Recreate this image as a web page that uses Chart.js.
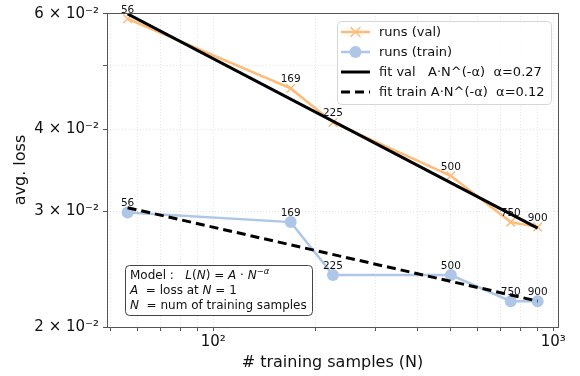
<!DOCTYPE html>
<html>
<head>
<meta charset="utf-8">
<script src="https://cdn.jsdelivr.net/npm/chart.js@4.4.0/dist/chart.umd.min.js"></script>
<style>
  html, body { margin: 0; padding: 0; background: #fff; }
</style>
</head>
<body>
<canvas id="lossChart" width="580" height="376"></canvas>
<script>
// datos
const trainingSamples = [56, 169, 225, 500, 750, 900];
const lossVal = [0.0590, 0.0462, 0.0410, 0.0340, 0.0289, 0.0284];
const lossTrain = [0.0299, 0.0289, 0.0240, 0.0240, 0.0219, 0.0219];

// rectas de ajuste (extremos)
const fitN = [56, 900];
const fitVal = [0.0600, 0.0283];
const fitTrain = [0.0304, 0.0219];

const xTicks = [50, 60, 70, 80, 90, 100, 200, 300, 400, 500, 600, 700, 800, 900, 1000];
const xTickLabels = ['', '', '', '', '', '10²', '', '', '', '', '', '', '', '', '10³'];
const yTicks = [0.02, 0.03, 0.04, 0.05, 0.06];
const yTickLabels = ['2 × 10⁻²', '3 × 10⁻²', '4 × 10⁻²', '', '6 × 10⁻²'];

const legendItems = [
    { text: 'runs (val)', color: '#ffbb78', marker: 'cross' },
    { text: 'runs (train)', color: '#aec7e8', marker: 'circle' },
    { text: 'fit val   A·N^(-α)  α=0.27', color: '#000', marker: null },
    { text: 'fit train A·N^(-α)  α=0.12', color: '#000', marker: null, dash: true }
];

const FONT = 'DejaVu Sans';

function toPoints(xs, ys) {
    return xs.map((x, i) => ({ x: x, y: ys[i] }));
}

const pointLabels = {
    id: 'pointLabels',
    afterDatasetsDraw(chart) {
        const { ctx, scales: { x, y } } = chart;
        ctx.save();
        ctx.font = '10.5px ' + FONT;
        ctx.fillStyle = '#111';
        ctx.textAlign = 'center';
        ctx.textBaseline = 'alphabetic';
        [lossVal, lossTrain].forEach(serie => {
            trainingSamples.forEach((n, i) => {
                ctx.fillText(String(n), x.getPixelForValue(n), y.getPixelForValue(serie[i]) - 6);
            });
        });
        ctx.restore();
    }
};

function roundRect(ctx, x, y, w, h, r) {
    ctx.beginPath();
    ctx.moveTo(x + r, y);
    ctx.arcTo(x + w, y, x + w, y + h, r);
    ctx.arcTo(x + w, y + h, x, y + h, r);
    ctx.arcTo(x, y + h, x, y, r);
    ctx.arcTo(x, y, x + w, y, r);
    ctx.closePath();
}

// marco, leyenda y cuadro del modelo
const extras = {
    id: 'extras',
    afterDraw(chart) {
        const { ctx, chartArea: a } = chart;
        ctx.save();

        // marco del eje
        ctx.strokeStyle = '#555';
        ctx.lineWidth = 1;
        ctx.strokeRect(a.left + 0.5, a.top + 0.5, a.right - a.left, a.bottom - a.top);

        // leyenda
        const lx = a.right - 221, ly = a.top + 8;
        roundRect(ctx, lx + 0.5, ly + 0.5, 214, 83, 4);
        ctx.fillStyle = 'rgba(255,255,255,0.85)';
        ctx.fill();
        ctx.strokeStyle = '#d6d6d6';
        ctx.stroke();

        ctx.font = '13px ' + FONT;
        ctx.textBaseline = 'middle';
        ctx.textAlign = 'left';
        legendItems.forEach((it, i) => {
            const yy = ly + 11 + i * 20;
            ctx.strokeStyle = it.color;
            ctx.lineWidth = it.marker ? 2.5 : 3;
            ctx.setLineDash(it.dash ? [9, 5] : []);
            ctx.beginPath();
            ctx.moveTo(lx + 4, yy);
            ctx.lineTo(lx + 33, yy);
            ctx.stroke();
            ctx.setLineDash([]);
            const cx = lx + 18.5;
            if (it.marker === 'cross') {
                ctx.lineWidth = 1.5;
                ctx.beginPath();
                ctx.moveTo(cx - 5, yy - 5); ctx.lineTo(cx + 5, yy + 5);
                ctx.moveTo(cx - 5, yy + 5); ctx.lineTo(cx + 5, yy - 5);
                ctx.stroke();
            } else if (it.marker === 'circle') {
                ctx.fillStyle = it.color;
                ctx.beginPath();
                ctx.arc(cx, yy, 6, 0, Math.PI * 2);
                ctx.fill();
            }
            ctx.fillStyle = '#111';
            ctx.fillText(it.text, lx + 42, yy + 0.5);
        });

        // cuadro del modelo
        const bx = a.left + 18, by = a.bottom - 62;
        roundRect(ctx, bx + 0.5, by + 0.5, 187, 50, 4);
        ctx.fillStyle = '#fff';
        ctx.fill();
        ctx.strokeStyle = '#444';
        ctx.lineWidth = 1;
        ctx.stroke();

        const lines = [
            [['Model :', 0], ['   ', 0], ['L', 1], ['(', 0], ['N', 1], [') = ', 0], ['A', 1], [' · ', 0], ['N', 1], ['−', 2], ['α', 3]],
            [['A', 1], ['  = loss at ', 0], ['N', 1], [' = 1', 0]],
            [['N', 1], ['  = num of training samples', 0]]
        ];
        ctx.fillStyle = '#111';
        ctx.textBaseline = 'alphabetic';
        lines.forEach((segs, i) => {
            let xx = bx + 5;
            const base = by + 14 + i * 15;
            segs.forEach(([t, kind]) => {
                let yy = base;
                if (kind === 0) ctx.font = '12px ' + FONT;
                else if (kind === 1) ctx.font = 'italic 12px ' + FONT;
                else if (kind === 2) { ctx.font = '8.5px ' + FONT; yy = base - 5; }
                else { ctx.font = 'italic 8.5px ' + FONT; yy = base - 5; }
                ctx.fillText(t, xx, yy);
                xx += ctx.measureText(t).width;
            });
        });

        ctx.restore();
    }
};

const gridOpts = {
    color: 'rgba(0,0,0,0.13)',
    lineWidth: 0.8,
    drawTicks: true,
    tickLength: 4,
    tickColor: '#555',
    tickWidth: 1
};

const ctx = document.getElementById('lossChart').getContext('2d');
const lossChart = new Chart(ctx, {
    type: 'scatter',
    data: {
        datasets: [
            {
                label: 'runs (val)',
                data: toPoints(trainingSamples, lossVal),
                showLine: true,
                borderColor: '#ffbb78',
                backgroundColor: '#ffbb78',
                borderWidth: 2.5,
                pointStyle: 'crossRot',
                pointRadius: 6,
                pointBorderWidth: 1.5,
                order: 2
            },
            {
                label: 'runs (train)',
                data: toPoints(trainingSamples, lossTrain),
                showLine: true,
                borderColor: '#aec7e8',
                backgroundColor: '#aec7e8',
                borderWidth: 2.5,
                pointStyle: 'circle',
                pointRadius: 6,
                pointBorderWidth: 0,
                order: 2
            },
            {
                label: 'fit val',
                data: toPoints(fitN, fitVal),
                showLine: true,
                borderColor: '#000',
                borderWidth: 3,
                pointRadius: 0,
                order: 1
            },
            {
                label: 'fit train',
                data: toPoints(fitN, fitTrain),
                showLine: true,
                borderColor: '#000',
                borderWidth: 3,
                borderDash: [9, 5],
                pointRadius: 0,
                order: 1
            }
        ]
    },
    options: {
        responsive: false,
        animation: false,
        devicePixelRatio: 1,
        layout: { padding: { left: 0, right: 22, top: 11, bottom: 0 } },
        plugins: {
            legend: { display: false },
            tooltip: { enabled: false }
        },
        scales: {
            x: {
                type: 'logarithmic',
                min: 48.7,
                max: 1033,
                afterBuildTicks: s => { s.ticks = xTicks.map(v => ({ value: v })); },
                afterFit: s => { s.height = 49; },
                ticks: {
                    autoSkip: false,
                    maxRotation: 0,
                    padding: 2,
                    color: '#111',
                    font: { family: FONT, size: 15 },
                    callback: (v, i) => xTickLabels[i]
                },
                grid: gridOpts,
                border: { display: false, dash: [1, 2] },
                title: {
                    display: true,
                    text: '# training samples (N)',
                    color: '#111',
                    font: { family: FONT, size: 16 },
                    padding: { top: 0, bottom: 4 }
                }
            },
            y: {
                type: 'logarithmic',
                min: 0.02,
                max: 0.0602,
                afterBuildTicks: s => { s.ticks = yTicks.map(v => ({ value: v })); },
                afterFit: s => { s.width = 107; },
                ticks: {
                    autoSkip: false,
                    padding: 4,
                    color: '#111',
                    font: { family: FONT, size: 15 },
                    callback: (v, i) => yTickLabels[i]
                },
                grid: gridOpts,
                border: { display: false, dash: [1, 2] },
                title: {
                    display: true,
                    text: 'avg. loss',
                    color: '#111',
                    font: { family: FONT, size: 16 },
                    padding: { top: 11, bottom: 0 }
                }
            }
        }
    },
    plugins: [pointLabels, extras]
});
</script>
</body>
</html>
